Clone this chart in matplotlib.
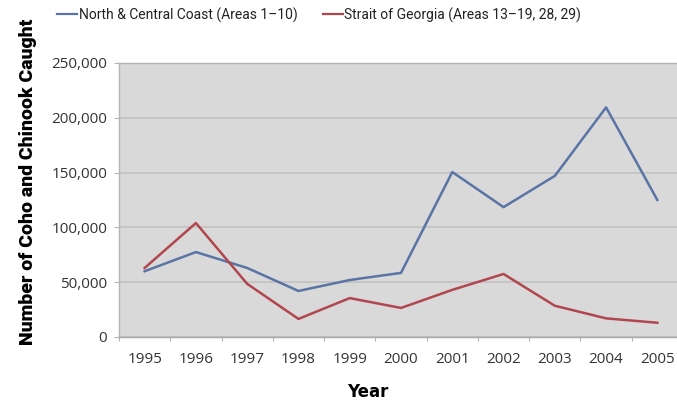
import matplotlib
matplotlib.use("Agg")
import matplotlib.pyplot as plt
from matplotlib.ticker import FuncFormatter, FixedLocator
import numpy as np

# ─── data ───
years = ["1995", "1996", "1997", "1998", "1999", "2000",
         "2001", "2002", "2003", "2004", "2005"]
north_central = [60000, 77500, 63000, 42000, 52000, 58500,
                 150500, 118500, 147000, 209500, 125000]
strait_georgia = [63000, 104000, 48500, 16500, 35500, 26500,
                  43000, 57500, 28500, 17000, 13000]

BLUE = "#5a74a5"
RED = "#b2464f"
BG = "#d9d9d9"
W, H = 677, 408

fig = plt.figure(figsize=(W / 100, H / 100), dpi=100)
# plot area: left spine at x=119, top at y=63, zero line at y=337; cropped on the right
ax = fig.add_axes([119 / W, 1 - 337 / H, (683 - 119) / W, (337 - 63) / H])
ax.set_facecolor(BG)

x = np.arange(len(years))
ax.plot(x, north_central, color=BLUE, linewidth=1.8,
        label="North & Central Coast (Areas 1\u201310)")
ax.plot(x, strait_georgia, color=RED, linewidth=1.8,
        label="Strait of Georgia (Areas 13\u201319, 28, 29)")

ax.set_xlim(-0.5, len(years) - 0.5)
ax.set_ylim(0, 250000)
ax.set_yticks(np.arange(0, 250001, 50000))
ax.yaxis.set_major_formatter(FuncFormatter(lambda v, p: f"{int(v):,}"))
ax.set_xticks(x)
ax.set_xticklabels(years)
ax.xaxis.set_minor_locator(FixedLocator(np.arange(-0.5, len(years), 1.0)))

ax.grid(axis="y", color="#c2c2c2", linewidth=1.2)
ax.set_axisbelow(True)

for s in ["left", "top", "bottom"]:
    ax.spines[s].set_color("#b4b4b4")
    ax.spines[s].set_linewidth(1.0)
ax.spines["bottom"].set_color("#a8a8a8")
ax.spines["right"].set_visible(False)

ax.tick_params(axis="y", length=3.6, width=0.8, color="#b4b4b4", pad=5, labelsize=11)
ax.tick_params(axis="x", which="major", length=0, pad=10.5, labelsize=11)
ax.tick_params(axis="x", which="minor", length=3, width=0.8, color="#b4b4b4")
for lab in ax.get_xticklabels() + ax.get_yticklabels():
    lab.set_fontfamily("Open Sans")
    lab.set_color("#333333")

# axis titles
fig.text(368 / W, 1 - 392 / H, "Year", fontsize=12, fontweight="bold",
         family="DejaVu Sans", ha="center", va="center")
fig.text(28.5 / W, 1 - 182 / H, "Number of Coho and Chinook Caught", rotation=90,
         fontsize=14, fontweight="heavy", family="Roboto",
         ha="center", va="center")

leg = fig.legend(loc="center left", bbox_to_anchor=(57 / W, 1 - 15 / H), ncol=2,
                 frameon=False, borderpad=0, borderaxespad=0,
                 handlelength=1.45, handletextpad=0.1, columnspacing=1.85,
                 prop={"family": "Roboto", "size": 10})
for line in leg.get_lines():
    line.set_linewidth(1.6)
for t in leg.get_texts():
    t.set_color("#222222")

plt.savefig("out.png", dpi=100)
